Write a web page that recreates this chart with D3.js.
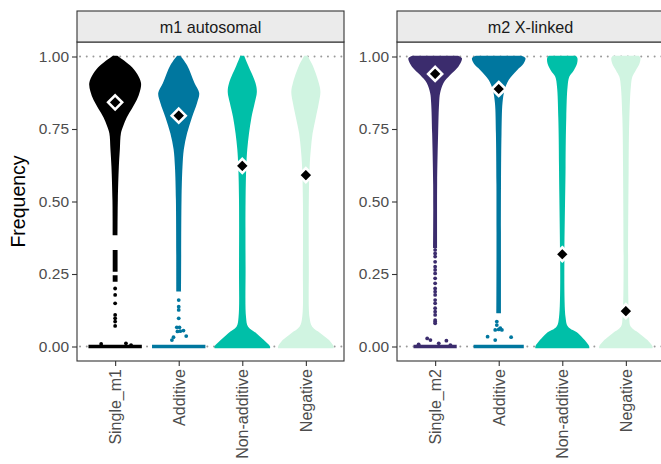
<!DOCTYPE html>
<html lang="en">
<head>
    <meta charset="UTF-8">
    <title>Frequency by interaction type</title>
    <script src="https://d3js.org/d3.v7.min.js"></script>
    <style>
        body { margin: 0; background: #fff; }
        text { font-family: "Liberation Sans", Arial, sans-serif; }
    </style>
</head>
<body>
    <div id="chart"></div>

    <script>
        // facets and categories
        var facets = ["m1 autosomal", "m2 X-linked"];
        var categories1 = ["Single_m1", "Additive", "Non-additive", "Negative"];
        var categories2 = ["Single_m2", "Additive", "Non-additive", "Negative"];
        var yTicks = [0, 0.25, 0.5, 0.75, 1];
        var yTickLabels = ["0.00", "0.25", "0.50", "0.75", "1.00"];

        // mean frequency (diamonds)
        var means1 = [0.842, 0.796, 0.623, 0.591];
        var means2 = [0.94, 0.888, 0.318, 0.122];

        // density profiles: [frequency, relative half width]; width 0 = no data there
        var violinSingleM1 = [[1.003, 0.08], [0.97, 0.55], [0.94, 0.82], [0.909, 0.96], [0.88, 0.92], [0.85, 0.8], [0.82, 0.62],
            [0.79, 0.43], [0.76, 0.3], [0.735, 0.215], [0.68, 0.175], [0.62, 0.137], [0.505, 0.1], [0.384, 0.09], [0.36, 0],
            [0.333, 0.09], [0.258, 0.09], [0.252, 0], [0.246, 0.09], [0.223, 0.09], [0.2, 0], [0.006, 0.99], [-0.006, 0.99]];
        var violinAdditiveM1 = [[1.003, 0.06], [0.97, 0.31], [0.909, 0.585], [0.874, 0.76], [0.84, 0.68], [0.79, 0.49],
            [0.735, 0.31], [0.68, 0.19], [0.62, 0.14], [0.505, 0.104], [0.19, 0.09], [0.185, 0], [0.006, 0.99], [-0.006, 0.99]];
        var violinNonAddM1 = [[1.003, 0.07], [0.97, 0.215], [0.909, 0.49], [0.878, 0.54], [0.84, 0.46], [0.79, 0.34],
            [0.735, 0.25], [0.68, 0.185], [0.62, 0.148], [0.505, 0.122], [0.274, 0.122], [0.1, 0.14], [0.068, 0.215],
            [0.046, 0.52], [0.022, 0.8], [0, 1.03], [-0.006, 1.03]];
        var violinNegativeM1 = [[1.003, 0.06], [0.97, 0.25], [0.909, 0.48], [0.878, 0.54], [0.84, 0.48], [0.79, 0.37],
            [0.735, 0.25], [0.68, 0.185], [0.62, 0.14], [0.505, 0.11], [0.274, 0.11], [0.1, 0.137], [0.068, 0.235],
            [0.046, 0.54], [0.022, 0.86], [0, 1.03], [-0.006, 1.03]];

        var violinSingleM2 = [[1.003, 0.85], [0.995, 0.99], [0.985, 0.98], [0.965, 0.86], [0.936, 0.555], [0.909, 0.31],
            [0.874, 0.185], [0.84, 0.148], [0.735, 0.111], [0.56, 0.074], [0.34, 0.074], [0.335, 0], [0.006, 0.8], [-0.006, 0.8]];
        var violinAdditiveM2 = [[1.003, 0.85], [0.995, 0.99], [0.977, 0.93], [0.953, 0.68], [0.919, 0.37], [0.884, 0.215],
            [0.84, 0.14], [0.735, 0.104], [0.56, 0.085], [0.115, 0.085], [0.11, 0], [0.006, 0.93], [-0.006, 0.93]];
        var violinNonAddM2 = [[1.003, 0.5], [0.995, 0.56], [0.977, 0.55], [0.953, 0.43], [0.93, 0.26], [0.896, 0.196],
            [0.79, 0.148], [0.62, 0.122], [0.1, 0.122], [0.068, 0.215], [0.046, 0.585], [0.022, 0.83], [0, 1.0], [-0.006, 1.0]];
        var violinNegativeM2 = [[1.003, 0.48], [0.995, 0.54], [0.977, 0.51], [0.953, 0.37], [0.93, 0.24], [0.896, 0.185],
            [0.79, 0.13], [0.62, 0.104], [0.1, 0.122], [0.068, 0.185], [0.046, 0.49], [0.022, 0.8], [0, 0.99], [-0.006, 0.99]];

        // single observations: [frequency, offset in category units]
        var pointsSingleM1 = [[0.2, 0], [0.178, 0], [0.149, 0], [0.109, 0], [0.097, 0], [0.086, 0], [0.071, 0],
            [0.009, -0.22], [0.011, 0.17], [0.005, 0.25]];
        var pointsAdditiveM1 = [[0.16, 0], [0.137, 0], [0.126, 0], [0.097, 0], [0.066, -0.03], [0.066, 0.012],
            [0.052, -0.02], [0.053, 0.025], [0.055, 0.075], [0.036, 0.118], [0.032, -0.082], [0.022, -0.107]];
        var pointsSingleM2 = [[0.333, 0], [0.321, 0], [0.31, 0], [0.292, 0], [0.275, 0], [0.264, 0], [0.252, 0],
            [0.235, 0], [0.218, 0], [0.2, 0], [0.189, 0], [0.178, 0], [0.16, 0], [0.149, 0], [0.132, 0], [0.12, 0],
            [0.109, 0], [0.091, 0], [0.086, 0], [0.08, 0], [0.0075, -0.26], [0.028, -0.125], [0.022, -0.074],
            [0.011, 0.057], [0.02, 0.177], [0.005, 0.24]];
        var pointsAdditiveM2 = [[0.086, -0.03], [0.074, -0.03], [0.063, 0.025], [0.057, 0.05], [0.059, 0],
            [0.057, -0.055], [0.034, -0.175], [0.022, -0.055], [0.032, 0.195]];

        var violins1 = [violinSingleM1, violinAdditiveM1, violinNonAddM1, violinNegativeM1];
        var violins2 = [violinSingleM2, violinAdditiveM2, violinNonAddM2, violinNegativeM2];
        var points1 = [pointsSingleM1, pointsAdditiveM1, [], []];
        var points2 = [pointsSingleM2, pointsAdditiveM2, [], []];

        var colors1 = ["#000000", "#00779F", "#00BFA8", "#D0F4E1"];
        var colors2 = ["#3B2C6D", "#00779F", "#00BFA8", "#D0F4E1"];

        var width = 661, height = 464;
        var panelTop = 42, panelBottom = 361, stripTop = 11;
        var panelW = 267;
        var panelLefts = [77, 397];

        var svg = d3.select("#chart")
                    .append("svg")
                    .attr("width", width)
                    .attr("height", height);

        var y = d3.scaleLinear()
                  .domain([-0.05, 1.05])
                  .range([panelBottom, panelTop]);

        var panelData = [
            { name: facets[0], cats: categories1, means: means1, violins: violins1, points: points1, colors: colors1 },
            { name: facets[1], cats: categories2, means: means2, violins: violins2, points: points2, colors: colors2 }
        ];

        panelData.forEach(function(p, i) {
            var left = panelLefts[i];
            var x = d3.scalePoint()
                      .domain(p.cats)
                      .range([left, left + panelW])
                      .padding(0.6);
            var w = d3.scaleLinear().domain([0, 1]).range([0, x.step() * 0.424]);

            var g = svg.append("g");

            // dotted reference lines at 0 and 1
            g.selectAll("line.ref")
             .data([0, 1])
             .enter()
             .append("line")
             .attr("x1", left + 3)
             .attr("x2", left + panelW)
             .attr("y1", function(d) { return y(d); })
             .attr("y2", function(d) { return y(d); })
             .attr("stroke", "#9a9a9a")
             .attr("stroke-width", 1.9)
             .attr("stroke-linecap", "round")
             .attr("stroke-dasharray", "0.1 6.6");

            // violins
            p.cats.forEach(function(c, j) {
                var cx = x(c);
                var area = d3.area()
                             .defined(function(d) { return d[1] > 0; })
                             .curve(d3.curveCatmullRom.alpha(0.5))
                             .y(function(d) { return y(d[0]); })
                             .x0(function(d) { return cx - w(d[1]); })
                             .x1(function(d) { return cx + w(d[1]); });
                g.append("path")
                 .attr("d", area(p.violins[j]))
                 .attr("fill", p.colors[j]);

                g.selectAll(null)
                 .data(p.points[j])
                 .enter()
                 .append("circle")
                 .attr("cx", function(d) { return cx + d[1] * x.step(); })
                 .attr("cy", function(d) { return y(d[0]); })
                 .attr("r", 1.9)
                 .attr("fill", p.colors[j]);
            });

            // means
            var s = 7;
            g.selectAll("path.mean")
             .data(p.means)
             .enter()
             .append("path")
             .attr("d", "M0," + (-s) + "L" + s + ",0L0," + s + "L" + (-s) + ",0Z")
             .attr("transform", function(d, j) { return "translate(" + x(p.cats[j]) + "," + y(d) + ")"; })
             .attr("fill", "#000")
             .attr("stroke", "#fff")
             .attr("stroke-width", 2.6)
             .attr("stroke-linejoin", "miter");

            // panel border
            g.append("rect")
             .attr("x", left).attr("y", panelTop)
             .attr("width", panelW).attr("height", panelBottom - panelTop)
             .attr("fill", "none")
             .attr("stroke", "#333333")
             .attr("stroke-width", 1.1);

            // strip
            g.append("rect")
             .attr("x", left).attr("y", stripTop)
             .attr("width", panelW).attr("height", panelTop - stripTop)
             .attr("fill", "#EBEBEB")
             .attr("stroke", "#333333")
             .attr("stroke-width", 1.1);
            g.append("text")
             .attr("x", left + panelW / 2)
             .attr("y", (stripTop + panelTop) / 2)
             .attr("text-anchor", "middle")
             .attr("dominant-baseline", "central")
             .attr("font-size", "16.2px")
             .attr("fill", "#1A1A1A")
             .text(p.name);

            // axes
            var xAxis = g.append("g")
                         .attr("transform", "translate(0," + panelBottom + ")")
                         .call(d3.axisBottom(x).tickSize(5).tickPadding(3));
            xAxis.select(".domain").remove();
            xAxis.selectAll(".tick line").attr("stroke", "#333333").attr("stroke-width", 1.1);
            xAxis.selectAll(".tick text")
                 .attr("transform", "rotate(-90)")
                 .attr("x", -8).attr("y", 0).attr("dy", "0.35em")
                 .attr("text-anchor", "end")
                 .attr("font-size", "16px")
                 .attr("fill", "#4D4D4D");

            var yAxis = g.append("g")
                         .attr("transform", "translate(" + left + ",0)")
                         .call(d3.axisLeft(y).tickValues(yTicks)
                                 .tickFormat(function(d, k) { return yTickLabels[k]; })
                                 .tickSize(5).tickPadding(3));
            yAxis.select(".domain").remove();
            yAxis.selectAll(".tick line").attr("stroke", "#333333").attr("stroke-width", 1.1);
            yAxis.selectAll(".tick text")
                 .attr("font-size", "15.5px")
                 .attr("fill", "#4D4D4D");
        });

        svg.append("text")
           .attr("transform", "translate(18," + ((panelTop + panelBottom) / 2) + ") rotate(-90)")
           .attr("text-anchor", "middle")
           .attr("dominant-baseline", "central")
           .attr("font-size", "19.5px")
           .attr("fill", "#000")
           .text("Frequency");
    </script>
</body>
</html>
